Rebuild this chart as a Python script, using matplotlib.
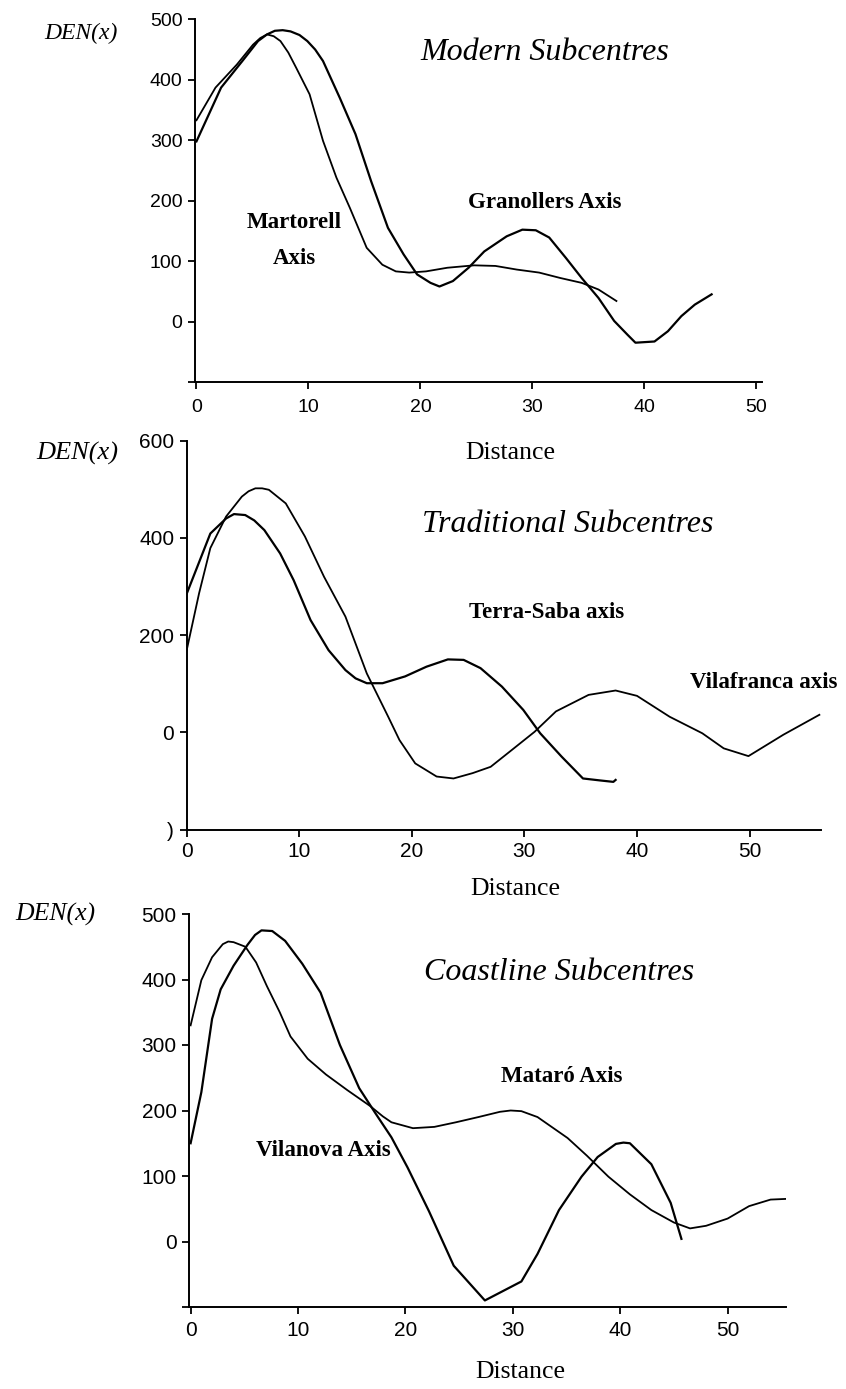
import matplotlib
matplotlib.use("Agg")
import matplotlib.pyplot as plt

# ---------------- data ----------------
# Panel 1: Modern subcentres
granollers_x = [0, 2.2, 4.1, 5.5, 6.3, 7.0, 7.7, 8.4, 9.2, 9.9, 10.6, 11.3, 12.8, 14.2, 15.6, 17.1,
                18.5, 19.7, 20.9, 21.7, 22.9, 24.3, 25.7, 27.7, 29.1, 30.3, 31.5, 33.0, 34.4, 35.9,
                37.3, 38.5, 39.2, 40.9, 42.1, 43.3, 44.5, 46.0]
granollers_y = [298, 387, 431, 464, 475, 481, 482, 480, 474, 464, 450, 431, 370, 310, 232, 155,
                111, 78, 64, 58, 67, 89, 116, 141, 152, 151, 139, 105, 72, 39,
                1, -22, -35, -33, -16, 9, 28, 45]
martorell_x = [0, 1.7, 3.6, 5.05, 5.7, 6.3, 6.9, 7.5, 8.2, 8.9, 10.1, 11.3, 12.5, 13.7, 15.2,
               16.6, 17.8, 19.0, 20.5, 22.4, 24.8, 26.7, 28.6, 30.6, 32.5, 34.4, 35.9, 37.5]
martorell_y = [333, 387, 425, 458, 469, 475, 472, 464, 445, 420, 376, 299, 238, 188, 122,
               94, 83, 81, 83, 89, 93, 92, 86, 81, 72, 64, 53, 34]

# Panel 2: Traditional subcentres
terrasaba_x = [0, 2.1, 3.5, 4.2, 5.2, 6.0, 6.9, 8.3, 9.5, 11.0, 12.6, 14.1, 15.0, 16.0, 17.4,
               19.4, 21.3, 23.2, 24.6, 26.1, 28.0, 29.9, 31.4, 33.3, 35.2, 36.7, 37.9, 38.1]
terrasaba_y = [285, 409, 440, 449, 447, 436, 416, 368, 313, 231, 169, 128, 111, 101, 101,
               115, 135, 150, 149, 132, 94, 46, -2, -50, -95, -99, -102, -98]
vilafranca_x = [0, 1.1, 2.1, 3.5, 4.9, 5.5, 6.1, 6.7, 7.3, 8.8, 10.5, 12.2, 14.1, 16.0, 17.9,
                18.9, 20.3, 22.2, 23.7, 25.4, 27.0, 28.9, 30.9, 32.8, 35.7, 38.1, 40.0, 42.9,
                45.8, 47.7, 49.9, 53.0, 56.2]
vilafranca_y = [169, 286, 379, 444, 485, 496, 502, 502, 499, 471, 403, 320, 238, 121, 32,
                -16, -64, -91, -95, -84, -71, -36, 1, 43, 77, 86, 75, 32,
                -2, -33, -49, -5, 36]

# Panel 3: Coastline subcentres
mataro_x = [0, 1.0, 2.0, 3.0, 3.5, 4.0, 5.1, 6.1, 7.1, 8.3, 9.3, 10.9, 12.6, 14.6, 16.7, 17.9,
            18.7, 20.7, 22.7, 24.7, 26.8, 28.8, 29.8, 30.8, 32.3, 35.1, 36.9, 38.9, 40.9, 42.9,
            45.0, 46.5, 48.0, 50.0, 52.0, 54.0, 55.4]
mataro_y = [330, 399, 434, 454, 458, 457, 450, 426, 390, 350, 313, 279, 255, 231, 207, 191,
            182, 173, 175, 182, 190, 198, 200, 199, 190, 158, 131, 99, 72, 48,
            29, 20, 24, 35, 54, 64, 65]
vilanova_x = [0, 1.0, 2.0, 2.8, 4.0, 5.3, 6.0, 6.6, 7.6, 8.8, 10.4, 12.1, 13.9, 15.7, 17.2,
              18.7, 20.2, 22.2, 24.5, 27.4, 30.8, 32.3, 34.3, 36.4, 37.9, 39.6, 40.3, 40.9,
              42.9, 44.7, 45.7]
vilanova_y = [150, 228, 340, 385, 421, 453, 468, 475, 474, 459, 424, 380, 300, 234, 196,
              159, 113, 46, -37, -90, -61, -19, 48, 99, 129, 149, 151, 150,
              118, 59, 4]

x_ticks = [0, 10, 20, 30, 40, 50]
y_ticks_1 = [-100, 0, 100, 200, 300, 400, 500]
y_labels_1 = ["", "0", "100", "200", "300", "400", "500"]
y_ticks_2 = [-200, 0, 200, 400, 600]
y_labels_2 = [")", "0", "200", "400", "600"]
y_ticks_3 = [-100, 0, 100, 200, 300, 400, 500]
y_labels_3 = ["", "0", "100", "200", "300", "400", "500"]

# ---------------- figure ----------------
W, H = 846, 1389
fig = plt.figure(figsize=(W / 100, H / 100), dpi=100)
SERIF = "Liberation Serif"
SANS = "Liberation Sans"


def rect(left, right, top, bottom):
    return [left / W, 1 - bottom / H, (right - left) / W, (bottom - top) / H]


def style(ax, xlim, ylim, yticks, ylabels, fs, xpad):
    ax.set_xlim(*xlim)
    ax.set_ylim(*ylim)
    ax.set_xticks(x_ticks)
    ax.set_yticks(yticks)
    ax.set_yticklabels(ylabels)
    for s in ("top", "right"):
        ax.spines[s].set_visible(False)
    for s in ("left", "bottom"):
        ax.spines[s].set_linewidth(1.4)
    ax.tick_params(axis="both", direction="out", length=5, width=1.3,
                   labelsize=fs, pad=4)
    ax.tick_params(axis="x", pad=xpad)
    for lab in ax.get_xticklabels() + ax.get_yticklabels():
        lab.set_fontfamily(SANS)
    ax.patch.set_alpha(0)


def ftext(x, y, s, **kw):
    fig.text(x / W, 1 - y / H, s, ha="center", va="center", **kw)


LW = 1.3

# Panel 1
ax1 = fig.add_axes(rect(195, 762, 19.3, 382))
ax1.plot(martorell_x, martorell_y, color="black", lw=LW)
ax1.plot(granollers_x, granollers_y, color="black", lw=LW + 0.3)
style(ax1, (-0.13, 50.5), (-100, 500), y_ticks_1, y_labels_1, 14, 7)

# Panel 2
ax2 = fig.add_axes(rect(186.7, 820.5, 440.7, 829.5))
ax2.plot(terrasaba_x, terrasaba_y, color="black", lw=LW + 0.3)
ax2.plot(vilafranca_x, vilafranca_y, color="black", lw=LW)
style(ax2, (0, 56.3), (-200, 600), y_ticks_2, y_labels_2, 15, 4)

# Panel 3
ax3 = fig.add_axes(rect(189, 785.6, 914, 1307))
ax3.plot(mataro_x, mataro_y, color="black", lw=LW)
ax3.plot(vilanova_x, vilanova_y, color="black", lw=LW + 0.3)
style(ax3, (-0.15, 55.4), (-100, 500), y_ticks_3, y_labels_3, 15, 5)

# Texts
ftext(81, 33, "DEN(x)", family=SERIF, style="italic", fontsize=17)
ftext(77, 453, "DEN(x)", family=SERIF, style="italic", fontsize=19)
ftext(55, 914, "DEN(x)", family=SERIF, style="italic", fontsize=18.5)

ftext(545, 52, "Modern Subcentres", family=SERIF, style="italic", fontsize=23)
ftext(568, 525, "Traditional Subcentres", family=SERIF, style="italic", fontsize=23)
ftext(559, 973, "Coastline Subcentres", family=SERIF, style="italic", fontsize=23)

ftext(510, 453, "Distance", family=SERIF, fontsize=18.5)
ftext(515, 889, "Distance", family=SERIF, fontsize=18.5)
ftext(520, 1372, "Distance", family=SERIF, fontsize=18.5)

ftext(294, 222, "Martorell", family=SERIF, weight="bold", fontsize=16.5)
ftext(294, 258, "Axis", family=SERIF, weight="bold", fontsize=16.5)
ftext(545, 202, "Granollers Axis", family=SERIF, weight="bold", fontsize=16.5)
ftext(547, 613, "Terra-Saba axis", family=SERIF, weight="bold", fontsize=16.5)
ftext(764, 682, "Vilafranca axis", family=SERIF, weight="bold", fontsize=16.5)
ftext(562, 1077, "Mataró Axis", family=SERIF, weight="bold", fontsize=16.5)
ftext(323, 1151, "Vilanova Axis", family=SERIF, weight="bold", fontsize=16.5)

fig.savefig("out.png", dpi=100)
